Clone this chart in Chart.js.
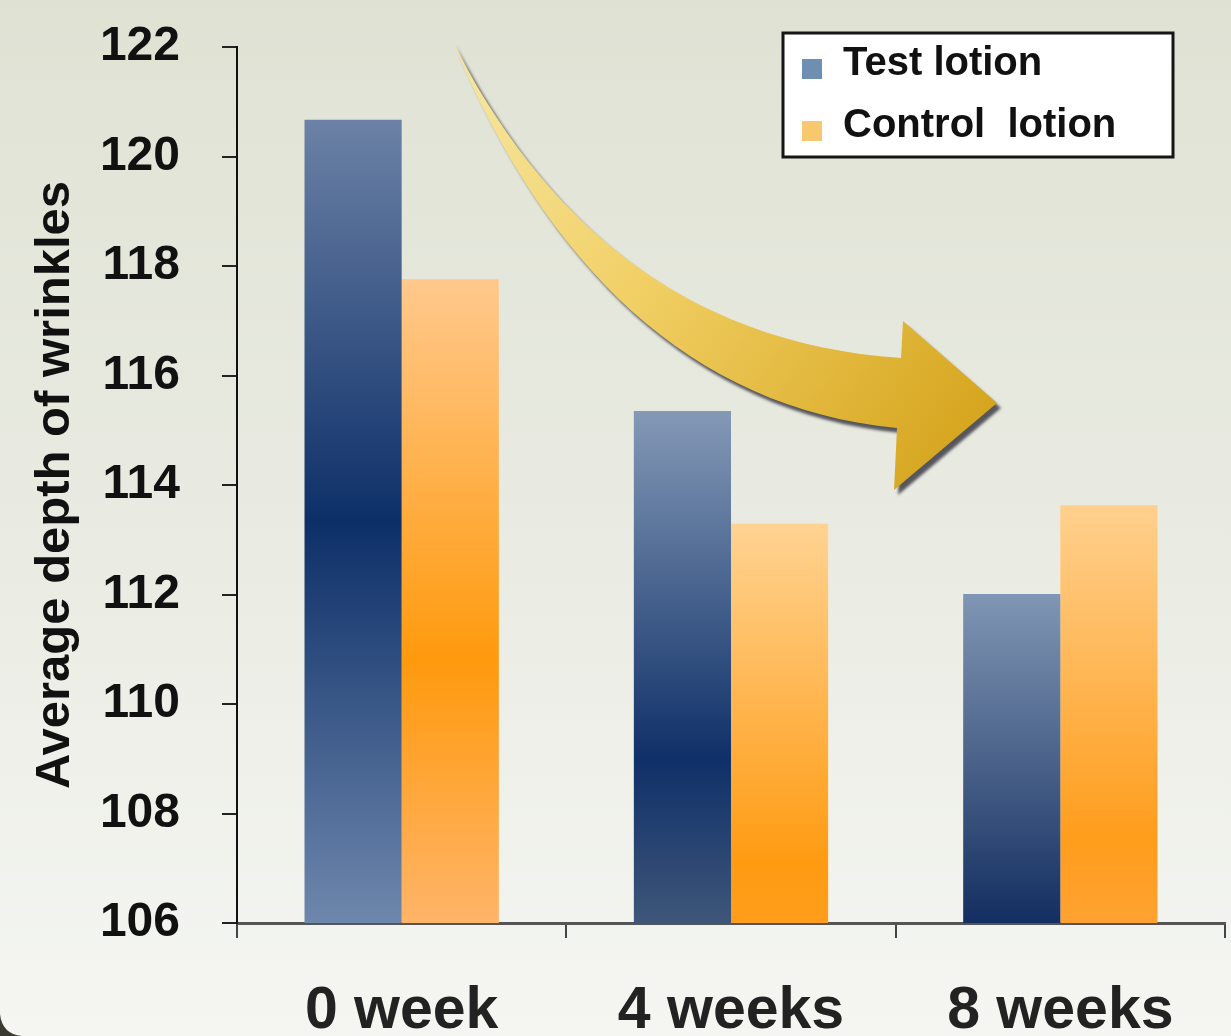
<!DOCTYPE html>
<html>
<head>
<meta charset="utf-8">
<script src="https://cdn.jsdelivr.net/npm/chart.js@4.4.1/dist/chart.umd.min.js"></script>
<style>
  html, body { margin: 0; padding: 0; background: #eceee6; }
  #wrap { width: 1231px; height: 1036px; position: relative; }
</style>
</head>
<body>
<div id="wrap"><canvas id="c"></canvas></div>
<script>
// ---- data ----
const categories = ['0 week', '4 weeks', '8 weeks'];
const testLotion = [120.67, 115.35, 112.01];
const controlLotion = [117.76, 113.29, 113.63];
const seriesNames = ['Test lotion', 'Control  lotion'];
const yAxisTitle = 'Average depth of wrinkles';
const yMin = 106, yMax = 122, yStep = 2;

// ---- styles ----
const FONT = '"Liberation Sans", Arial, sans-serif';
const blueStops = [
  [[0, '#6c82a6'], [0.5, '#0d2f68'], [1, '#6e87ac']],
  [[0, '#8499b6'], [0.68, '#0f3068'], [1, '#3e5679']],
  [[0, '#7f96b4'], [0.55, '#465e86'], [1, '#132e61']]
];
const orangeStops = [
  [[0, '#ffc98c'], [0.59, '#ff9a0e'], [1, '#ffb468']],
  [[0, '#ffd392'], [0.85, '#ff9b12'], [1, '#ff9e1c']],
  [[0, '#ffd08e'], [0.8, '#ff9d1c'], [1, '#ffa232']]
];
const legendColors = ['#6f8fb2', '#f7c86e'];

function barGradient(ctx, stopsList, fallback) {
  const chart = ctx.chart;
  if (!chart.chartArea || ctx.raw === undefined || !chart.scales.y) return fallback;
  const ys = chart.scales.y;
  const top = ys.getPixelForValue(ctx.raw);
  const base = ys.getPixelForValue(yMin);
  const g = chart.ctx.createLinearGradient(0, top, 0, base);
  stopsList[ctx.dataIndex].forEach(s => g.addColorStop(s[0], s[1]));
  return g;
}

const bgPlugin = {
  id: 'bg',
  beforeDraw(chart) {
    const c = chart.ctx, w = chart.width, h = chart.height;
    c.save();
    const g = c.createLinearGradient(0, 0, 0, h);
    g.addColorStop(0, '#dfe2d3');
    g.addColorStop(0.5, '#e9ebe2');
    g.addColorStop(1, '#f5f6f2');
    c.fillStyle = g;
    c.fillRect(0, 0, w, h);
    c.fillStyle = '#3a3a30';
    c.beginPath();
    c.moveTo(0, h - 22);
    c.quadraticCurveTo(2, h - 2, 22, h);
    c.lineTo(0, h);
    c.closePath();
    c.fill();
    c.restore();
  }
};

const arrowPlugin = {
  id: 'arrow',
  afterDatasetsDraw(chart) {
    const c = chart.ctx;
    c.save();
    c.beginPath();
    c.moveTo(452, 40);
    c.bezierCurveTo(540, 215, 680, 343, 901, 358);
    c.lineTo(903, 321);
    c.lineTo(997, 403);
    c.lineTo(894, 490);
    c.lineTo(897, 428);
    c.bezierCurveTo(690, 408, 545, 265, 452, 40);
    c.closePath();
    c.shadowColor = 'rgba(60,60,70,0.85)';
    c.shadowOffsetX = 4;
    c.shadowOffsetY = 5;
    c.shadowBlur = 3;
    const g = c.createLinearGradient(451, 40, 997, 420);
    g.addColorStop(0, '#f7e8a4');
    g.addColorStop(0.45, '#f1cf64');
    g.addColorStop(1, '#d5a41c');
    c.fillStyle = g;
    c.fill();
    c.restore();
  }
};

const legendPlugin = {
  id: 'boxLegend',
  afterDraw(chart) {
    const c = chart.ctx;
    c.save();
    const x = 783, y = 33, w = 390, h = 124;
    c.fillStyle = '#ffffff';
    c.fillRect(x, y, w, h);
    c.lineWidth = 3;
    c.strokeStyle = '#151515';
    c.strokeRect(x, y, w, h);
    c.font = 'bold 40px ' + FONT;
    c.textBaseline = 'alphabetic';
    c.textAlign = 'left';
    const baselines = [75, 137];
    chart.data.datasets.forEach((ds, i) => {
      c.fillStyle = legendColors[i];
      c.fillRect(802, baselines[i] - 16, 20, 20);
      c.fillStyle = '#111111';
      c.fillText(ds.label, 843, baselines[i]);
    });
    c.restore();
  }
};

new Chart(document.getElementById('c'), {
  type: 'bar',
  data: {
    labels: categories,
    datasets: [
      {
        label: seriesNames[0],
        data: testLotion,
        backgroundColor: ctx => barGradient(ctx, blueStops, legendColors[0]),
        borderWidth: 0
      },
      {
        label: seriesNames[1],
        data: controlLotion,
        backgroundColor: ctx => barGradient(ctx, orangeStops, legendColors[1]),
        borderWidth: 0
      }
    ]
  },
  options: {
    responsive: true,
    maintainAspectRatio: false,
    animation: false,
    layout: { padding: { top: 47, right: 6, left: 0, bottom: 0 } },
    datasets: { bar: { categoryPercentage: 0.59, barPercentage: 1.0 } },
    plugins: {
      legend: { display: false },
      tooltip: { enabled: false },
      title: { display: false }
    },
    scales: {
      x: {
        offset: true,
        afterFit(s) { s.height = 113; s.paddingLeft = 0; s.paddingRight = 0; },
        grid: {
          display: true, offset: true, drawOnChartArea: false, drawTicks: true,
          tickLength: 15, color: '#444', lineWidth: 2
        },
        border: { display: true, color: '#555', width: 3 },
        ticks: {
          color: '#222',
          font: { family: FONT, size: 59, weight: 'bold' },
          padding: 38,
          maxRotation: 0, autoSkip: false
        }
      },
      y: {
        min: yMin, max: yMax,
        afterFit(s) { s.width = 237; s.paddingTop = 0; s.paddingBottom = 0; },
        grid: {
          display: true, drawOnChartArea: false, drawTicks: true,
          tickLength: 15, color: '#222', lineWidth: 2
        },
        border: { display: true, color: '#111', width: 2 },
        ticks: {
          stepSize: yStep,
          color: '#111',
          font: { family: FONT, size: 48, weight: 'bold' },
          padding: 42
        },
        title: {
          display: true,
          text: yAxisTitle,
          color: '#111',
          font: { family: FONT, size: 49, weight: 'bold' },
          padding: { top: 26, bottom: 0 }
        }
      }
    }
  },
  plugins: [bgPlugin, arrowPlugin, legendPlugin]
});
</script>
</body>
</html>
